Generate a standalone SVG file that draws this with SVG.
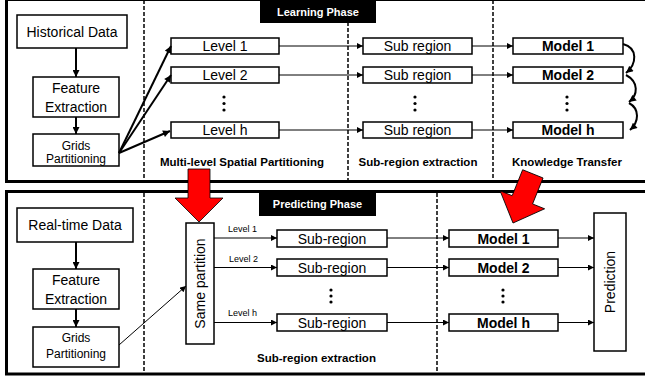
<svg xmlns="http://www.w3.org/2000/svg" width="645" height="381" viewBox="0 0 645 381">
<style>
text{font-family:"Liberation Sans",Arial,sans-serif;fill:#000}
.t14{font-size:14px}
.b14{font-size:14px;font-weight:bold}
.t12{font-size:12px}
.lab{font-size:11.5px;font-weight:bold}
.ph{font-size:11px;font-weight:bold;fill:#fff}
.sm{font-size:9px}
.box{fill:#fff;stroke:#000;stroke-width:1.5}
.panel{fill:#fff;stroke:#000;stroke-width:3}
.dash{stroke:#000;stroke-width:1.5;stroke-dasharray:4 2;fill:none}
.thin{stroke:#000;stroke-width:1;fill:none;marker-end:url(#as)}
.thick{stroke:#000;stroke-width:2;fill:none;marker-end:url(#al)}
.red{fill:#f00;stroke:#000;stroke-width:0.8}
</style>
<defs>
<marker id="as" viewBox="0 0 10 10" refX="10" refY="5" markerWidth="7" markerHeight="6" markerUnits="userSpaceOnUse" orient="auto"><path d="M0,0 L10,5 L0,10 z" fill="#000"/></marker>
<marker id="al" viewBox="0 0 10 10" refX="10" refY="5" markerWidth="8" markerHeight="7" markerUnits="userSpaceOnUse" orient="auto"><path d="M0,0 L10,5 L0,10 z" fill="#000"/></marker>
</defs>

<g id="panels">
<rect class="panel" x="6.5" y="-0.5" width="650" height="182"/>
<rect class="panel" x="6.5" y="191.5" width="650" height="182.5"/>
<line class="dash" x1="144" y1="0" x2="144" y2="180"/>
<line class="dash" x1="348" y1="22" x2="348" y2="180"/>
<line class="dash" x1="493" y1="0" x2="493" y2="180"/>
<line class="dash" x1="144" y1="193" x2="144" y2="373"/>
<line class="dash" x1="437" y1="193" x2="437" y2="373"/>
</g>

<g id="learning-phase">
<rect x="260" y="0" width="116" height="23" fill="#000"/>
<text class="ph" x="318" y="15.5" text-anchor="middle">Learning Phase</text>
</g>
<g id="predicting-phase">
<rect x="259" y="193" width="117" height="23" fill="#000"/>
<text class="ph" x="317.5" y="208" text-anchor="middle">Predicting Phase</text>
</g>

<!-- top panel nodes -->
<g id="historical-data"><rect class="box" x="17" y="15" width="110" height="33"/><text class="t14" x="72" y="37" text-anchor="middle">Historical Data</text></g>
<g id="feature-extraction-1"><rect class="box" x="33" y="77" width="86" height="40"/><text class="t14" x="76" y="93" text-anchor="middle">Feature</text><text class="t14" x="76" y="112" text-anchor="middle">Extraction</text></g>
<g id="grids-1"><rect class="box" x="33" y="134" width="86" height="32"/><text class="t12" x="76" y="149.5" text-anchor="middle">Grids</text><text class="t12" x="76" y="163" text-anchor="middle">Partitioning</text></g>

<g id="level-1"><rect class="box" x="171" y="38" width="108" height="16"/><text class="t14" x="225" y="51" text-anchor="middle">Level 1</text></g>
<g id="level-2"><rect class="box" x="171" y="67" width="108" height="16"/><text class="t14" x="225" y="80" text-anchor="middle">Level 2</text></g>
<g id="level-h"><rect class="box" x="171" y="122" width="108" height="16"/><text class="t14" x="225" y="135" text-anchor="middle">Level h</text></g>
<g id="level-dots"><circle cx="224" cy="97" r="1.6"/><circle cx="224" cy="103.5" r="1.6"/><circle cx="224" cy="110" r="1.6"/></g>

<g id="subregion-1"><rect class="box" x="363" y="38" width="109" height="16"/><text class="t14" x="417.5" y="51" text-anchor="middle">Sub region</text></g>
<g id="subregion-2"><rect class="box" x="363" y="67" width="109" height="16"/><text class="t14" x="417.5" y="80" text-anchor="middle">Sub region</text></g>
<g id="subregion-h"><rect class="box" x="363" y="122" width="109" height="16"/><text class="t14" x="417.5" y="135" text-anchor="middle">Sub region</text></g>
<g id="subregion-dots"><circle cx="415" cy="97" r="1.6"/><circle cx="415" cy="103.5" r="1.6"/><circle cx="415" cy="110" r="1.6"/></g>

<g id="model-1"><rect class="box" x="513" y="38" width="110" height="16"/><text class="b14" x="568" y="51" text-anchor="middle">Model 1</text></g>
<g id="model-2"><rect class="box" x="513" y="67" width="110" height="16"/><text class="b14" x="568" y="80" text-anchor="middle">Model 2</text></g>
<g id="model-h"><rect class="box" x="513" y="122" width="110" height="16"/><text class="b14" x="568" y="135" text-anchor="middle">Model h</text></g>
<g id="model-dots"><circle cx="567" cy="97" r="1.6"/><circle cx="567" cy="103.5" r="1.6"/><circle cx="567" cy="110" r="1.6"/></g>

<g id="top-labels">
<text class="lab" x="242" y="166" text-anchor="middle">Multi-level Spatial Partitioning</text>
<text class="lab" x="418" y="166" text-anchor="middle">Sub-region extraction</text>
<text class="lab" x="567" y="166" text-anchor="middle">Knowledge Transfer</text>
</g>

<!-- bottom panel nodes -->
<g id="realtime-data"><rect class="box" x="17" y="208" width="116" height="34"/><text class="t14" x="75" y="229.5" text-anchor="middle">Real-time Data</text></g>
<g id="feature-extraction-2"><rect class="box" x="33" y="269" width="86" height="40"/><text class="t14" x="76" y="285" text-anchor="middle">Feature</text><text class="t14" x="76" y="304" text-anchor="middle">Extraction</text></g>
<g id="grids-2"><rect class="box" x="33" y="327" width="86" height="40"/><text class="t12" x="76" y="342" text-anchor="middle">Grids</text><text class="t12" x="76" y="358" text-anchor="middle">Partitioning</text></g>

<g id="same-partition"><rect class="box" x="186" y="223" width="28" height="121"/><text class="t14" transform="translate(205,283.5) rotate(-90)" text-anchor="middle">Same partition</text></g>

<g id="bsub-1"><rect class="box" x="277" y="230" width="110" height="17"/><text class="t14" x="332" y="243.5" text-anchor="middle">Sub-region</text></g>
<g id="bsub-2"><rect class="box" x="277" y="259" width="110" height="17"/><text class="t14" x="332" y="272.5" text-anchor="middle">Sub-region</text></g>
<g id="bsub-h"><rect class="box" x="277" y="314" width="110" height="17"/><text class="t14" x="332" y="327.5" text-anchor="middle">Sub-region</text></g>
<g id="bsub-dots"><circle cx="331" cy="290" r="1.6"/><circle cx="331" cy="296" r="1.6"/><circle cx="331" cy="302" r="1.6"/></g>

<g id="bmodel-1"><rect class="box" x="449" y="230" width="109" height="17"/><text class="b14" x="503.5" y="243.5" text-anchor="middle">Model 1</text></g>
<g id="bmodel-2"><rect class="box" x="449" y="259" width="109" height="17"/><text class="b14" x="503.5" y="272.5" text-anchor="middle">Model 2</text></g>
<g id="bmodel-h"><rect class="box" x="449" y="314" width="109" height="17"/><text class="b14" x="503.5" y="327.5" text-anchor="middle">Model h</text></g>
<g id="bmodel-dots"><circle cx="503" cy="290" r="1.6"/><circle cx="503" cy="296" r="1.6"/><circle cx="503" cy="302" r="1.6"/></g>

<g id="prediction"><rect class="box" x="594" y="213" width="32" height="138"/><text class="t14" transform="translate(615,282) rotate(-90)" text-anchor="middle">Prediction</text></g>

<g id="bottom-labels">
<text class="sm" x="228" y="232">Level 1</text>
<text class="sm" x="229" y="262">Level 2</text>
<text class="sm" x="228" y="316">Level h</text>
<text class="lab" x="316.5" y="362" text-anchor="middle">Sub-region extraction</text>
</g>

<g id="connectors">
<line class="thick" x1="76" y1="48" x2="76" y2="77"/>
<line class="thick" x1="76" y1="117" x2="76" y2="134"/>
<line class="thick" x1="119" y1="153" x2="171" y2="46"/>
<line class="thick" x1="119" y1="153" x2="171" y2="75"/>
<line class="thick" x1="119" y1="153" x2="170" y2="131"/>
<line class="thin" x1="279" y1="46" x2="363" y2="46"/>
<line class="thin" x1="279" y1="75" x2="363" y2="75"/>
<line class="thin" x1="279" y1="130" x2="363" y2="130"/>
<line class="thin" x1="472" y1="46" x2="513" y2="46"/>
<line class="thin" x1="472" y1="75" x2="513" y2="75"/>
<line class="thin" x1="472" y1="130" x2="513" y2="130"/>
<path class="thick" d="M623,44 C638,48 637,64 626,73"/>
<path class="thick" d="M626,75 C639,82 638,95 629,102"/>
<path class="thick" d="M629,103 C640,109 639,122 630,130"/>

<line class="thick" x1="76" y1="242" x2="76" y2="269"/>
<line class="thick" x1="76" y1="309" x2="76" y2="327"/>
<line class="thin" x1="119" y1="345" x2="186" y2="286"/>
<line class="thin" x1="214" y1="238" x2="277" y2="238"/>
<line class="thin" x1="214" y1="267.5" x2="277" y2="267.5"/>
<line class="thin" x1="214" y1="322.5" x2="277" y2="322.5"/>
<line class="thin" x1="387" y1="238" x2="449" y2="238"/>
<line class="thin" x1="387" y1="267.5" x2="449" y2="267.5"/>
<line class="thin" x1="387" y1="322.5" x2="449" y2="322.5"/>
<line class="thin" x1="558" y1="238" x2="594" y2="238"/>
<line class="thin" x1="558" y1="267.5" x2="594" y2="267.5"/>
<line class="thin" x1="558" y1="322.5" x2="594" y2="322.5"/>
</g>

<g id="red-arrows">
<path class="red" d="M188,169 L210,169 L210,198 L223,198 L199,222 L175,198 L188,198 z"/>
<path class="red" transform="translate(513,223) rotate(22)" d="M-11,-53 L11,-53 L11,-25 L24,-25 L0,0 L-24,-25 L-11,-25 z"/>
</g>
</svg>
